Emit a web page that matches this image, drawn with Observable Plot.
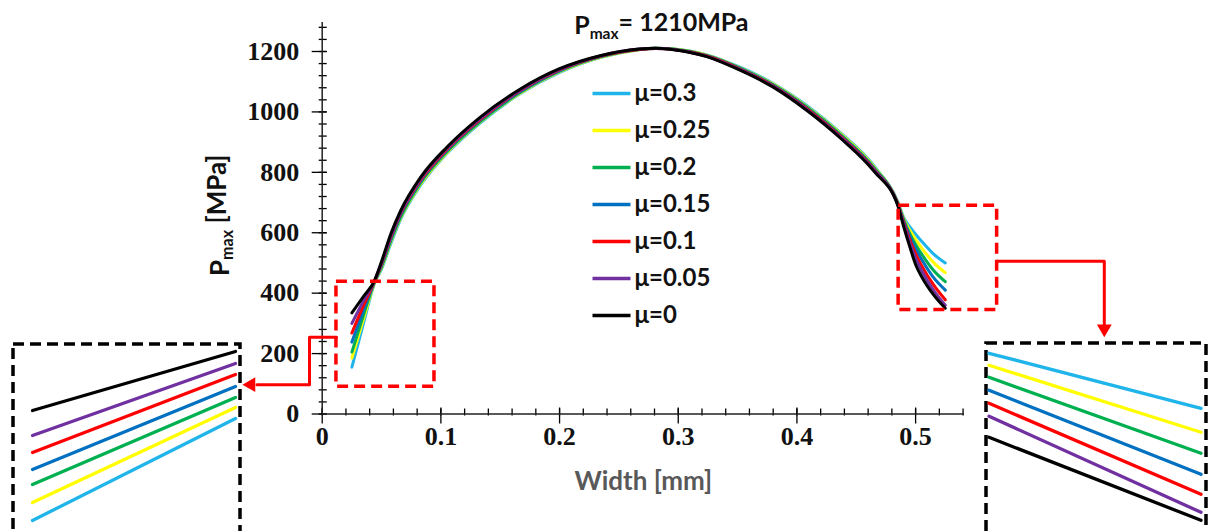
<!DOCTYPE html>
<html><head><meta charset="utf-8">
<script src="https://cdn.jsdelivr.net/npm/d3@7"></script>
<script src="https://cdn.jsdelivr.net/npm/@observablehq/plot@0.6"></script>
<style>
html,body{margin:0;padding:0;overflow:hidden;background:#fff;width:1209px;height:531px}
#wrap{position:relative;width:1209px;height:531px;overflow:hidden}
#wrap svg{position:absolute;overflow:visible}
</style>
</head><body><div id="wrap"></div>
<script>
// ---- data ----
const widths = [0.025, 0.035, 0.044, 0.05, 0.058, 0.066, 0.083, 0.105, 0.133, 0.167, 0.2, 0.235, 0.267, 0.281, 0.296, 0.324, 0.352, 0.38, 0.409, 0.437, 0.465, 0.485, 0.49, 0.495, 0.5, 0.505, 0.515, 0.525];
const labels = ["μ=0.3", "μ=0.25", "μ=0.2", "μ=0.15", "μ=0.1", "μ=0.05", "μ=0"];
const colors = ["#1FB4EA", "#FFFF00", "#00B050", "#0070C0", "#FF0000", "#7030A0", "#000000"];
const mu03  = [155, 303, 432, 480, 566, 644, 758, 862, 963, 1061, 1131, 1181, 1206, 1211, 1208, 1189, 1148, 1094, 1019, 930, 821, 702, 650, 620, 595, 572, 530, 500];
const mu025 = [185, 317, 434, 484, 572, 648, 762, 865, 966, 1063, 1133, 1182, 1206, 1211, 1208, 1188, 1146, 1092, 1016, 927, 818, 700, 646, 609, 578, 550, 502, 468];
const mu02  = [205, 330, 436, 488, 576, 652, 766, 868, 968, 1065, 1135, 1183, 1207, 1211, 1208, 1187, 1145, 1090, 1014, 924, 815, 698, 642, 598, 561, 530, 476, 438];
const mu015 = [238, 346, 438, 493, 582, 658, 771, 872, 972, 1068, 1137, 1184, 1207, 1210, 1207, 1186, 1143, 1088, 1011, 921, 812, 696, 638, 589, 547, 512, 452, 410];
const mu01  = [268, 361, 439, 497, 588, 663, 775, 876, 975, 1071, 1139, 1185, 1207, 1210, 1207, 1185, 1142, 1086, 1009, 918, 809, 694, 633, 578, 530, 492, 428, 378];
const mu005 = [300, 376, 440, 500, 592, 667, 779, 879, 978, 1073, 1141, 1186, 1208, 1211, 1207, 1184, 1140, 1084, 1006, 915, 806, 692, 628, 568, 515, 475, 410, 360];
const mu0   = [335, 390, 441, 505, 598, 672, 784, 883, 982, 1076, 1143, 1187, 1208, 1211, 1206, 1183, 1138, 1082, 1003, 912, 803, 690, 620, 555, 495, 455, 395, 350];
const seriesValues = [mu03, mu025, mu02, mu015, mu01, mu005, mu0];

// zoomed inset lines (start / end levels, inset units)
const leftInsetStart  = [11, 29, 47, 62, 79, 96, 121];
const leftInsetEnd    = [113, 124, 134, 145, 157, 168, 180];
const rightInsetStart = [178, 166, 154, 141, 128, 115, 94];
const rightInsetEnd   = [123, 99, 78, 57, 37, 19, 11];

const yTicks = [0, 200, 400, 600, 800, 1000, 1200];
const yTickLabels = ["0", "200", "400", "600", "800", "1000", "1200"];
const xTicks = [0, 0.1, 0.2, 0.3, 0.4, 0.5];
const xTickLabels = ["0", "0.1", "0.2", "0.3", "0.4", "0.5"];
const yMinor = d3.range(0, 1290, 40);
const xMinor = d3.range(0, 0.541, 0.02);

// zoom boxes (data units) and connectors
const leftBox = {x1: 0.012, x2: 0.0946, y1: 90, y2: 438};
const rightBox = {x1: 0.4857, x2: 0.5687, y1: 344, y2: 689};
const leftConnector = [[0.012, 254], [-0.0107, 254], [-0.0107, 97], [-0.055, 97]];
const rightConnector = [[0.5687, 506], [0.659, 506], [0.659, 290]];
const arrowHeads = [{x: -0.06, y: 97, r: -90}, {x: 0.659, y: 282, r: 180}];

// ---- build tables ----
const rows = [];
seriesValues.forEach((vals, s) => widths.forEach((w, i) => rows.push({width: w, p: vals[i], mu: labels[s], color: colors[s]})));

const sans = "Lato, 'Open Sans', sans-serif";
const serif = "'Liberation Serif', 'Times New Roman', serif";
const wrap = document.getElementById("wrap");

const main = Plot.plot({
  width: 1209, height: 531,
  marginLeft: 321.7, marginRight: 245, marginTop: 22, marginBottom: 117.5,
  x: {domain: [0, 0.5412], label: null},
  y: {domain: [0, 1296], label: null},
  color: {type: "identity"},
  style: {background: "transparent", overflow: "visible"},
  marks: [
    Plot.axisY({ticks: yMinor, tickSize: 8, dx: 5, tickFormat: () => "", label: null, strokeWidth: 1.3}),
    Plot.axisY({ticks: yTicks, tickSize: 15, dx: 5, tickFormat: () => "", label: null, strokeWidth: 1.3}),
    Plot.axisY({ticks: yTicks, tickSize: 0, tickPadding: 23, tickFormat: (d, i) => yTickLabels[i], label: null,
      fontSize: 26, fontWeight: "bold", fontFamily: serif, fill: "#111"}),
    Plot.axisX({ticks: xMinor, tickSize: 7, dy: -5, tickFormat: () => "", label: null, strokeWidth: 1.3}),
    Plot.axisX({ticks: xTicks, tickSize: 16, dy: -6, tickFormat: () => "", label: null, strokeWidth: 1.3}),
    Plot.axisX({ticks: xTicks, tickSize: 0, tickPadding: 13, tickFormat: (d, i) => xTickLabels[i], label: null,
      fontSize: 26, fontWeight: "bold", fontFamily: serif, fill: "#111"}),
    Plot.ruleX([0], {y1: 0, y2: 1296, stroke: "#222", strokeWidth: 1.5}),
    Plot.ruleY([0], {x1: 0, x2: 0.5412, stroke: "#222", strokeWidth: 1.5}),
    Plot.line(rows, {x: "width", y: "p", z: "mu", stroke: "color", strokeWidth: 3, curve: "monotone-x"}),
    Plot.rect([leftBox, rightBox], {x1: "x1", x2: "x2", y1: "y1", y2: "y2", fill: "none", stroke: "#FF0000", strokeWidth: 3.5, strokeDasharray: "11,6"}),
    Plot.line(leftConnector, {x: d => d[0], y: d => d[1], stroke: "#FF0000", strokeWidth: 3}),
    Plot.line(rightConnector, {x: d => d[0], y: d => d[1], stroke: "#FF0000", strokeWidth: 3}),
    Plot.dot(arrowHeads, {x: "x", y: "y", rotate: "r", symbol: "triangle", r: 5.5, fill: "#FF0000", stroke: "none"}),
    Plot.text(["T"], {frameAnchor: "top", dx: 18, dy: -6, text: () => "Pmax= 1210MPa", className: "ttl", textAnchor: "middle",
      fontSize: 25, fontWeight: "bold", fontFamily: sans, fill: "#111"}),
    Plot.text(["Y"], {frameAnchor: "left", dx: -102, dy: -3, rotate: -90, text: () => "Pmax [MPa]", className: "ylab", textAnchor: "middle",
      fontSize: 26, fontWeight: "bold", fontFamily: sans, fill: "#111"}),
    Plot.text(["X"], {frameAnchor: "bottom", dy: 76, text: () => "Width [mm]", textAnchor: "middle",
      fontSize: 26, fontWeight: "bold", fontFamily: sans, fill: "#595959"})
  ]
});
main.style.left = "0px"; main.style.top = "0px";
wrap.appendChild(main);

function subify(svg, cls, base, sub, rest) {
  d3.select(svg).selectAll(`g.${cls} text`).each(function () {
    const t = d3.select(this);
    t.text(null);
    t.append("tspan").text(base);
    t.append("tspan").attr("font-size", "0.62em").attr("dy", "0.3em").text(sub);
    t.append("tspan").attr("dy", "-0.3em").text(rest);
  });
}
subify(main, "ttl", "P", "max", "= 1210MPa");
subify(main, "ylab", "P", "max", " [MPa]");

// ---- legend ----
const legendRows = labels.map((l, i) => ({label: l, color: colors[i]}));
const legend = Plot.plot({
  width: 160, height: 265, margin: 0,
  x: {domain: [0, 1], range: [4, 42]},
  y: {type: "point", domain: labels, range: [20, 247], padding: 0},
  color: {type: "identity"},
  axis: null,
  style: {background: "transparent", overflow: "visible"},
  marks: [
    Plot.link(legendRows, {x1: 0, x2: 1, y1: "label", y2: "label", stroke: "color", strokeWidth: 3.5}),
    Plot.text(legendRows, {x: 1, y: "label", text: "label", dx: 4, textAnchor: "start",
      fontSize: 24, fontWeight: "bold", fontFamily: sans, fill: "#111"})
  ]
});
legend.style.left = "588px"; legend.style.top = "70px";
wrap.appendChild(legend);

// ---- insets ----
function inset(start, end, left, top, w, h, xRange, yDomain) {
  const r = [];
  labels.forEach((l, i) => { r.push({t: 0, v: start[i], mu: l, color: colors[i]}); r.push({t: 1, v: end[i], mu: l, color: colors[i]}); });
  const p = Plot.plot({
    width: w, height: h, margin: 0,
    x: {domain: [0, 1], range: xRange},
    y: {domain: yDomain},
    color: {type: "identity"},
    axis: null,
    style: {background: "transparent", overflow: "visible"},
    marks: [
      Plot.frame({stroke: "#000", strokeWidth: 3.5, strokeDasharray: "11,6", inset: 1.5}),
      Plot.line(r, {x: "t", y: "v", z: "mu", stroke: "color", strokeWidth: 3.3})
    ]
  });
  p.style.left = left + "px"; p.style.top = top + "px";
  wrap.appendChild(p);
}
inset(leftInsetStart, leftInsetEnd, 11, 342, 230, 200, [21, 224], [-11, 189]);
inset(rightInsetStart, rightInsetEnd, 983.5, 341.2, 223, 200, [4.5, 216.5], [-10.2, 189.8]);
</script>
</body></html>
